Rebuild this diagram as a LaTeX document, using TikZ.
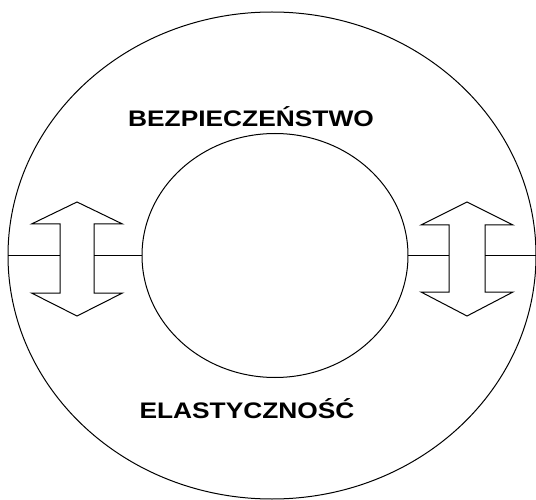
\documentclass[tikz,border=0pt]{standalone}
\usepackage{graphicx}
\usepackage{fontspec}
\setmainfont{Liberation Sans}
\usetikzlibrary{shapes.geometric}
\tikzset{
  ring/.style={draw, ellipse, line width=1pt, inner sep=0pt, outer sep=0pt},
  link/.style={draw, line width=1pt},
  updown/.style={draw, line width=1pt, line join=miter, fill=white},
  caption/.style={inner sep=0pt, font=\fontsize{22.5}{27}\selectfont\bfseries}
}
\begin{document}
\begin{tikzpicture}[x=1pt,y=-1pt]
\useasboundingbox (0,0) rectangle (536,500);
\node[ring, minimum width=528pt, minimum height=487pt] (outer) at (272,255.5) {};
\node[ring, minimum width=266pt, minimum height=244pt] (inner) at (275,255.5) {};
% left double arrow
\path[updown] (77,202) -- (122.5,224) -- (94,224) -- (94,293) -- (122.5,293) -- (77,316)
  -- (31.5,293) -- (60,293) -- (60,224) -- (31.5,224) -- cycle;
\coordinate (la) at (60,255.5);
\coordinate (lb) at (94,255.5);
% right double arrow
\path[updown] (467,202) -- (513,225) -- (485,225) -- (485,292) -- (513,292) -- (467,316)
  -- (421,292) -- (449,292) -- (449,225) -- (421,225) -- cycle;
\coordinate (ra) at (449,255.5);
\coordinate (rb) at (485,255.5);
\draw[link] (outer.west) -- (la);
\draw[link] (lb) -- (inner.west);
\draw[link] (inner.east) -- (ra);
\draw[link] (rb) -- (outer.east);
\node[caption, anchor=base] (bez) at (251,127) {\scalebox{1.17}[1]{BEZPIECZEŃSTWO}};
\node[caption, anchor=base] (ela) at (247,418) {\scalebox{1.17}[1]{ELASTYCZNOŚĆ}};
\end{tikzpicture}
\end{document}
